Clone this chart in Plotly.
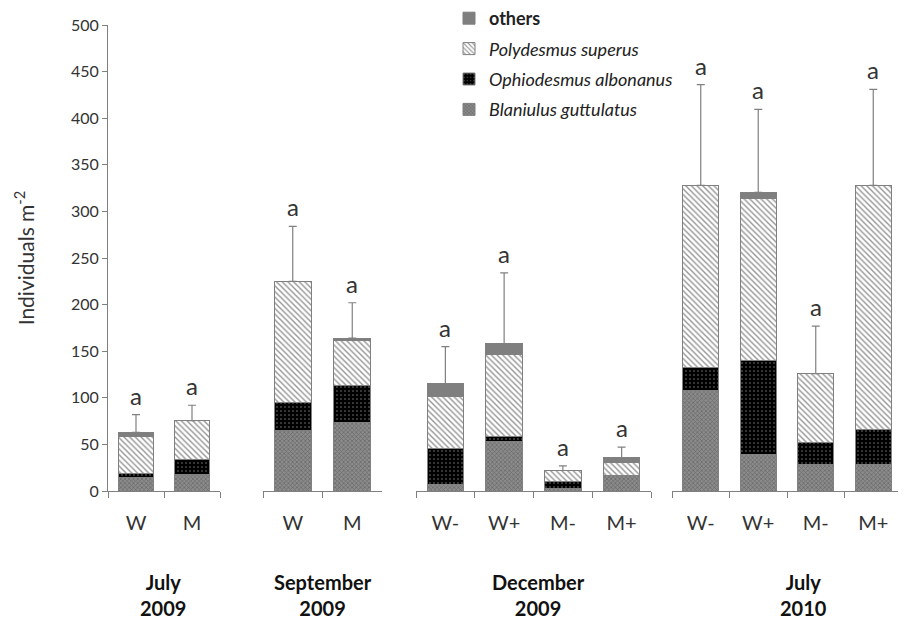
import plotly.graph_objects as go

# ---- data ----
panels = ["July<br>2009", "September<br>2009", "December<br>2009", "July<br>2010"]
treatments = [["W", "M"], ["W", "M"], ["W-", "W+", "M-", "M+"], ["W-", "W+", "M-", "M+"]]
blaniulus = [[15, 18], [65, 74], [6.5, 53, 3, 17], [108, 39, 28, 28]]
ophiodesmus = [[4, 16], [30, 39], [39.5, 6, 7, None], [24, 100.5, 24, 38.5]]
polydesmus = [[40, 41.5], [130, 49], [55, 87, 12, 13.5], [196, 174.5, 74, 261.5]]
others = [[4, None], [None, 2], [14, 12, None, 5], [None, 6.5, None, None]]
err_upper = [[82, 92], [284, 202], [155, 234, 27, 47], [436, 409.5, 177, 431]]
letters = [["a", "a"], ["a", "a"], ["a", "a", "a", "a"], ["a", "a", "a", "a"]]

series_names = ["Blaniulus guttulatus", "Ophiodesmus albonanus", "Polydesmus superus", "others"]
legend_labels = ["<i>Blaniulus guttulatus</i>", "<i>Ophiodesmus albonanus</i>",
                 "<i>Polydesmus superus</i>", "<b>others</b>"]
series_values = [blaniulus, ophiodesmus, polydesmus, others]

# ---- styles ----
FONT = "Lato, 'Open Sans', sans-serif"
LINE = "#808080"
patterns = [
    dict(shape="x", size=3, solidity=0.4, fgcolor="#3f3f3f", bgcolor="#8c8c8c", fillmode="overlay"),
    dict(shape=".", size=4, solidity=0.12, fgcolor="#ffffff", bgcolor="#000000", fillmode="overlay"),
    dict(shape="\\", size=4, solidity=0.35, fgcolor="#2b2b2b", bgcolor="#ffffff", fillmode="overlay"),
    None,
]
solid = ["#8c8c8c", "#000000", "#ffffff", "#7f7f7f"]

# The page body has an 8px margin, so the figure is drawn 8px in from the corner.
OFF = 8
FIG_W, FIG_H = 906 - OFF, 620 - OFF
# pixel positions in page coordinates, converted to figure coordinates
L, R, TOP, BOT = 108 - OFF, 902 - OFF, 25 - OFF, 491 - OFF
panel_px = [(108, 220), (263, 382), (416, 651), (672, 902)]
label_px = [163, 323, 538, 803]
W = R - L
H = BOT - TOP

fig = go.Figure()
for p in range(len(panels)):
    xa = "x" if p == 0 else f"x{p + 1}"
    cats = treatments[p]
    for s in range(4):
        marker = dict(line=dict(color=LINE, width=1), color=solid[s])
        if patterns[s] is not None:
            marker["pattern"] = patterns[s]
        fig.add_trace(go.Bar(
            x=cats, y=series_values[s][p], name=legend_labels[s],
            legendgroup=series_names[s], legendrank=10 - s,
            showlegend=(p == 0), marker=marker, xaxis=xa, yaxis="y",
            width=0.62,
        ))
    totals = [sum(v[p][i] or 0 for v in series_values) for i in range(len(cats))]
    fig.add_trace(go.Scatter(
        x=cats, y=totals, mode="markers", marker=dict(opacity=0, size=1),
        error_y=dict(type="data", symmetric=False,
                     array=[e - t for e, t in zip(err_upper[p], totals)],
                     arrayminus=[0] * len(cats), color=LINE, thickness=1.2, width=4),
        showlegend=False, xaxis=xa, yaxis="y", hoverinfo="skip",
    ))
    for c, e, t in zip(cats, err_upper[p], letters[p]):
        fig.add_annotation(
            x=c, y=e, xref=xa, yref="y", text=t, showarrow=False,
            xanchor="center", yanchor="bottom", yshift=3,
            font=dict(size=24, color="#333333", family=FONT),
        )

layout = dict(
    width=FIG_W, height=FIG_H,
    margin=dict(l=L, r=FIG_W - R, t=TOP, b=FIG_H - BOT, autoexpand=False),
    plot_bgcolor="white", paper_bgcolor="white",
    barmode="stack",
    font=dict(family=FONT, color="#333333"),
    legend=dict(x=(449 - OFF - L) / W, y=(BOT - (0 - OFF)) / H, xanchor="left", yanchor="top",
                traceorder="grouped", tracegroupgap=4,
                font=dict(size=18, color="#222222", family=FONT),
                bgcolor="rgba(0,0,0,0)"),
    yaxis=dict(range=[0, 500], dtick=50, anchor="x", showline=True, linecolor=LINE,
               ticks="outside", ticklen=5, tickcolor=LINE, showgrid=False, zeroline=False,
               tickfont=dict(size=16, color="#333333"),
               title=dict(text="Individuals m<sup>-2</sup>", font=dict(size=21, color="#333333"),
                          standoff=30)),
)
for p, (a, b) in enumerate(panel_px):
    key = "xaxis" if p == 0 else f"xaxis{p + 1}"
    layout[key] = dict(
        domain=[(a - OFF - L) / W, (b - OFF - L) / W], anchor="y", type="category",
        showline=True, linecolor=LINE, ticks="outside", tickson="boundaries",
        ticklen=6, tickcolor=LINE, showgrid=False, zeroline=False,
        tickfont=dict(size=20, color="#333333"), ticklabelstandoff=14,
    )
fig.update_layout(**layout)

for p in range(len(panels)):
    fig.add_annotation(
        x=(label_px[p] - OFF - L) / W, y=(BOT - (595 - OFF)) / H, xref="paper", yref="paper",
        text="<b>" + panels[p] + "</b>", showarrow=False, xanchor="center", yanchor="middle",
        font=dict(size=20, color="#111111", family=FONT),
    )

fig.write_html("out.html")
